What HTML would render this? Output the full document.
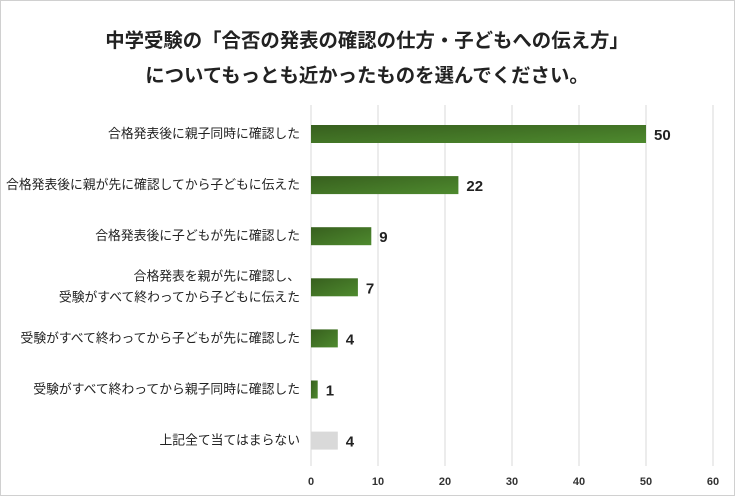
<!DOCTYPE html>
<html><head><meta charset="utf-8"><style>
body{margin:0;background:#fff;}
svg text{font-family:"Liberation Sans","Noto Sans CJK JP",sans-serif;}
</style></head><body>
<svg width="735" height="496" viewBox="0 0 735 496">
<defs><linearGradient id="g" x1="0" y1="0" x2="1" y2="1"><stop offset="0" stop-color="#375f1e"/><stop offset="1" stop-color="#4e8a2e"/></linearGradient></defs>
<rect x="0.5" y="0.5" width="734" height="495" fill="#fff" stroke="#d0d0d0"/>
<text x="367" y="47" text-anchor="middle" font-size="19.4" font-weight="bold" fill="#222">中学受験の「合否の発表の確認の仕方・子どもへの伝え方」</text>
<text x="367" y="82" text-anchor="middle" font-size="19.4" font-weight="bold" fill="#222">についてもっとも近かったものを選んでください。</text>
<g id="grid"></g><g id="bars"></g>
</svg>
<script>
const categories=[["合格発表後に親子同時に確認した"],["合格発表後に親が先に確認してから子どもに伝えた"],["合格発表後に子どもが先に確認した"],["合格発表を親が先に確認し、","受験がすべて終わってから子どもに伝えた"],["受験がすべて終わってから子どもが先に確認した"],["受験がすべて終わってから親子同時に確認した"],["上記全て当てはまらない"]];
const values=[50,22,9,7,4,1,4];
const ticks=[0,10,20,30,40,50,60];
const ns="http://www.w3.org/2000/svg";
const x0=311,x1=713,maxV=60;
const X=v=>x0+(x1-x0)*v/maxV;
const Y=i=>134+i*51.1;
const grid=document.getElementById('grid'),bars=document.getElementById('bars');
function mk(tag,attrs,parent,text){const e=document.createElementNS(ns,tag);for(const k in attrs)e.setAttribute(k,attrs[k]);if(text!==undefined)e.textContent=text;parent.appendChild(e);return e;}
ticks.forEach(t=>{
 const l=mk('line',{x1:X(t),x2:X(t),y1:105,y2:466,stroke:'#d9d9d9','stroke-width':1},grid);
 
 
 const tx=mk('text',{x:X(t),y:485,'text-anchor':'middle','font-size':11,'font-weight':'bold',fill:'#333'},grid,String(t));
 
 
});
values.forEach((v,i)=>{
 const y=Y(i);
 const last=i===values.length-1;
 const r=mk('rect',{x:x0,y:y-9,width:X(v)-x0,height:18,fill:last?'#d9d9d9':'url(#g)'},bars);
 
 
 const vt=mk('text',{x:X(v)+8,y:y+6,'font-size':15,'font-weight':'bold',fill:'#222'},bars,String(v));
 
 
 const lines=categories[i];
 lines.forEach((s,j)=>{
  const off=lines.length===1?4:(j===0?-7:14);
  const ct=mk('text',{x:300,y:y+off,'text-anchor':'end','font-size':12.8,fill:'#222'},bars,s);
  
  
 });
});
</script>
</body></html>
